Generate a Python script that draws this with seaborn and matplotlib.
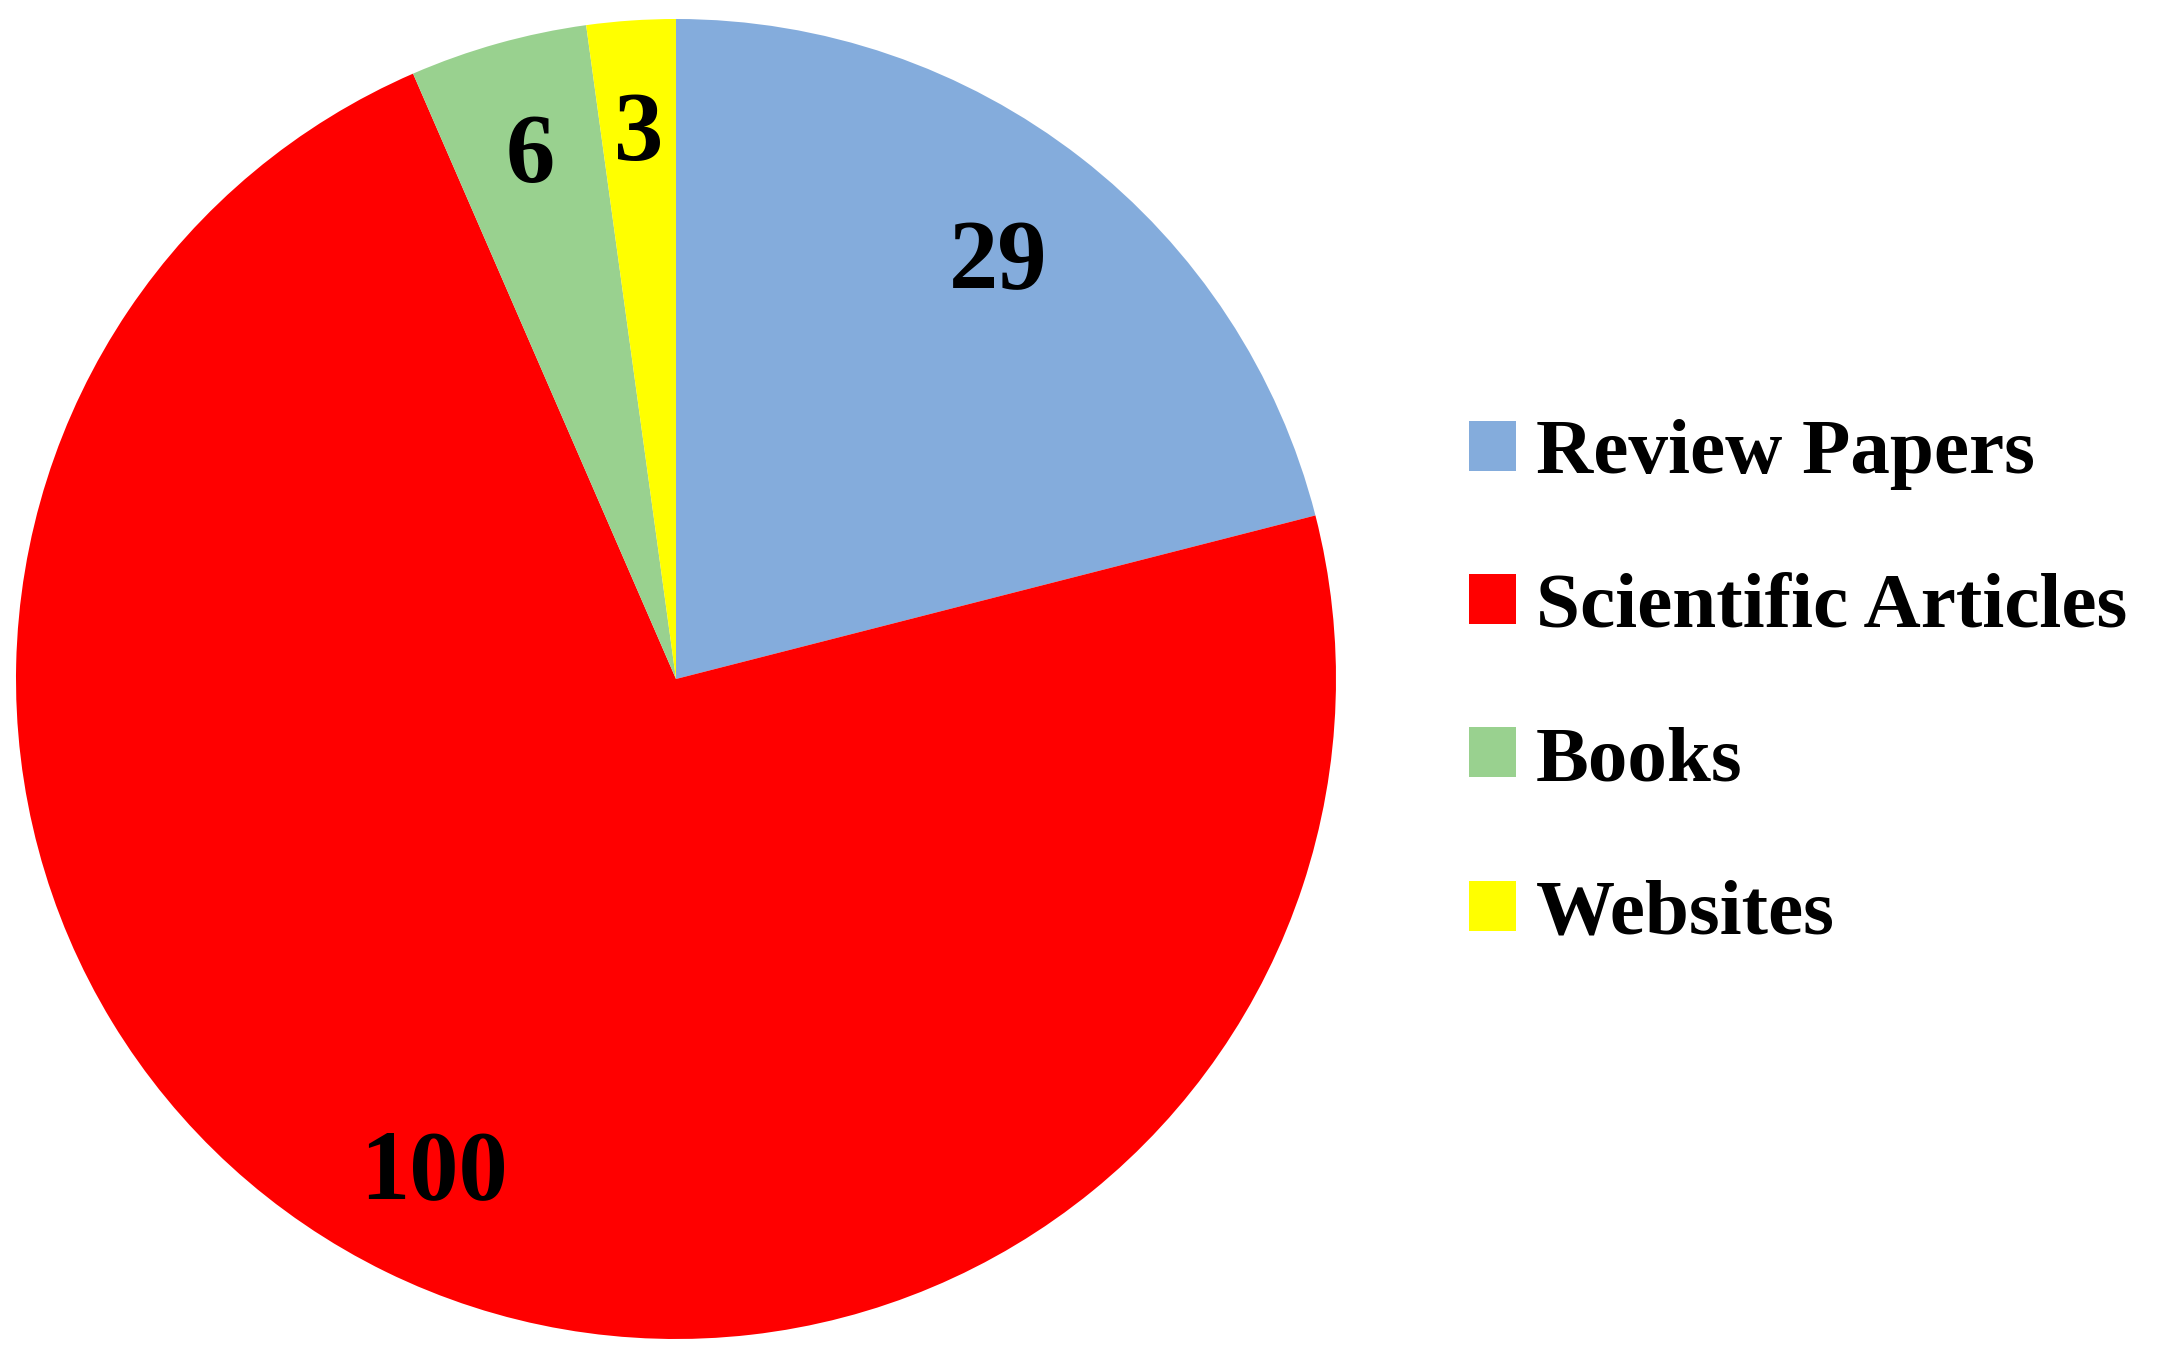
import matplotlib
matplotlib.use("Agg")
import matplotlib.pyplot as plt
import seaborn as sns

categories = ["Review Papers", "Scientific Articles", "Books", "Websites"]
counts = [29, 100, 6, 3]
colors = ["#84ACDC", "#FF0000", "#99D18F", "#FFFF00"]
# how far out each value label sits (fraction of radius)
label_radius = [0.795, 0.835, 0.82, 0.825]

sns.set_theme(style="white")
plt.rcParams["font.family"] = ["Liberation Serif", "DejaVu Serif"]
plt.rcParams["text.color"] = "black"

W, H = 2180, 1367
fig = plt.figure(figsize=(W / 100, H / 100), dpi=100)
fig.patch.set_facecolor("white")

# pie centred at (676, 679) px, radius 660 px
cx, cy, r = 676, 679, 660
ax = fig.add_axes([(cx - r) / W, (H - cy - r) / H, 2 * r / W, 2 * r / H])
total = sum(counts)
pct = 0.81
wedges, _, autotexts = ax.pie(
    counts,
    colors=colors,
    startangle=90,
    counterclock=False,
    radius=1,
    labels=None,
    autopct=lambda p: f"{round(p * total / 100):d}",
    pctdistance=pct,
    textprops={"fontsize": 71, "fontweight": "bold", "color": "black"},
    wedgeprops={"linewidth": 0},
)
for t, lr in zip(autotexts, label_radius):
    x, y = t.get_position()
    t.set_position((x * lr / pct, y * lr / pct))

ax.set_xlim(-1, 1)
ax.set_ylim(-1, 1)
ax.set_aspect("equal")
ax.axis("off")

leg = fig.legend(
    wedges,
    categories,
    loc="center left",
    bbox_to_anchor=(1469 / W, 1 - 685 / H),
    frameon=False,
    prop={"size": 57, "weight": "bold"},
    handlelength=0.595,
    handleheight=0.595,
    handletextpad=0.25,
    labelspacing=1.04,
    borderpad=0,
    borderaxespad=0,
)
for t in leg.get_texts():
    t.set_color("black")

fig.savefig("out.png", dpi=100, facecolor="white")
